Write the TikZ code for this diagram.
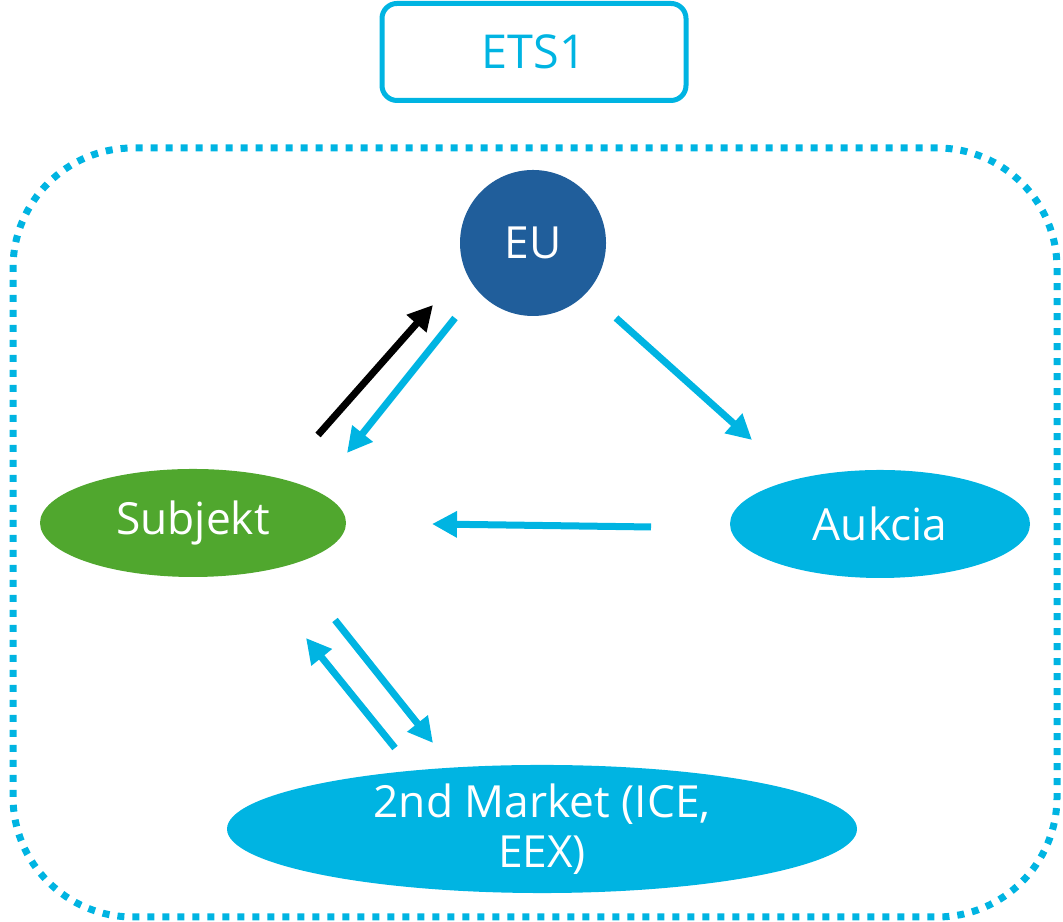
\documentclass[tikz,border=0pt]{standalone}
\usepackage{fontspec}
\setmainfont{Open Sans}
\usepackage{tikz}
\usetikzlibrary{shapes.geometric, arrows.meta}
\definecolor{modra}{RGB}{0,180,226}
\definecolor{tmavomodra}{RGB}{32,94,155}
\definecolor{zelena}{RGB}{80,167,46}

\begin{document}
\begin{tikzpicture}[
		font=\fontsize{12.6}{14.2}\selectfont,
		uzol/.style={ellipse, inner sep=0pt, text=white, align=center},
		sipka/.style={line width=0.07cm, modra, -{Triangle[length=0.25cm, width=0.25cm]}}
	]
				\useasboundingbox (0,0) rectangle (10.63,9.22);

				% ohranicenie ETS1
				\draw[modra, line width=0.07cm, dash pattern=on 0.07cm off 0.08cm, rounded corners=1.2cm]
					(0.13,0.05) rectangle (10.57,7.74);
				\node[draw=modra, line width=0.05cm, rounded corners=0.15cm, text=modra,
					minimum width=3.04cm, minimum height=0.97cm,
					font=\fontsize{13.3}{14.2}\selectfont] (ets) at (5.34,8.70) {ETS1};

				% uzly
				\node[circle, fill=tmavomodra, text=white, minimum size=1.46cm, inner sep=0pt] (eu) at (5.33,6.79) {EU};
				\node[uzol, fill=zelena, minimum width=3.06cm, minimum height=1.08cm] (subjekt) at (1.93,3.99) {Subjekt};
				\node[uzol, fill=modra, minimum width=3.00cm, minimum height=1.08cm] (aukcia) at (8.80,3.98) {Aukcia};
				\node[uzol, fill=modra, minimum width=6.30cm, minimum height=1.18cm] (trh) at (5.42,0.93) {2nd Market (ICE,\\EEX)};

				% konce sipok
				\coordinate (s1) at (3.18,4.87);
				\coordinate (e1) at (4.33,6.17);
				\coordinate (e2) at (4.55,6.04);
				\coordinate (s2) at (3.47,4.69);
				\coordinate (e3) at (6.16,6.04);
				\coordinate (a1) at (7.52,4.82);
				\coordinate (a2) at (6.51,3.95);
				\coordinate (s3) at (4.32,3.98);
				\coordinate (s4) at (3.35,3.02);
				\coordinate (t1) at (4.33,1.79);
				\coordinate (t2) at (3.95,1.74);
				\coordinate (s5) at (3.06,2.84);

				\draw[sipka, black] (s1) -- (e1);
				\draw[sipka] (e2) -- (s2);
				\draw[sipka] (e3) -- (a1);
				\draw[sipka] (a2) -- (s3);
				\draw[sipka] (s4) -- (t1);
				\draw[sipka] (t2) -- (s5);
			\end{tikzpicture}
\end{document}
